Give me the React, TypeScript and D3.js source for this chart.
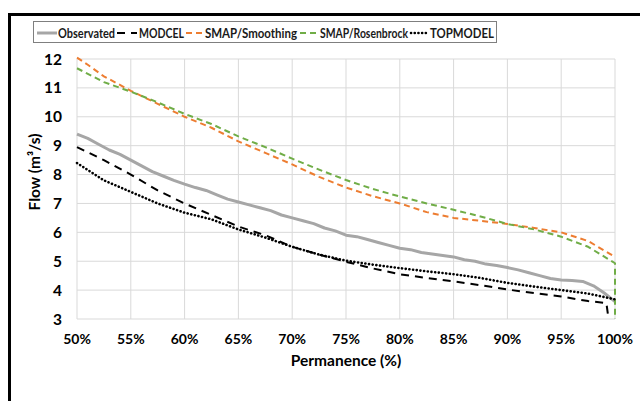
import React from "react";
import * as d3 from "d3";

// ---- data ----
const yTicks = [3, 4, 5, 6, 7, 8, 9, 10, 11, 12];
const xTicks = [50, 55, 60, 65, 70, 75, 80, 85, 90, 95, 100];

const observedX = [50, 51, 52, 53, 54, 55, 56, 57, 58, 59, 60, 61, 62, 63, 64, 65, 66, 67, 68, 69, 70, 71, 72, 73, 74, 75, 76, 77, 78, 79, 80, 81, 82, 83, 84, 85, 86, 87, 88, 89, 90, 91, 92, 93, 94, 95, 96, 97, 98, 99, 100];
const observedY = [9.4, 9.25, 9.05, 8.85, 8.7, 8.5, 8.3, 8.1, 7.95, 7.8, 7.67, 7.55, 7.45, 7.3, 7.15, 7.05, 6.95, 6.85, 6.75, 6.6, 6.5, 6.4, 6.3, 6.15, 6.05, 5.9, 5.85, 5.75, 5.65, 5.55, 5.45, 5.4, 5.3, 5.25, 5.2, 5.15, 5.05, 5.0, 4.9, 4.85, 4.78, 4.7, 4.6, 4.5, 4.4, 4.35, 4.33, 4.3, 4.15, 3.9, 3.6];

const modcelX = [50, 52.5, 55, 57.5, 60, 62.5, 65, 67.5, 70, 72.5, 75, 77.5, 80, 82.5, 85, 87.5, 90, 92.5, 95, 97.5, 99.2, 99.4];
const modcelY = [8.95, 8.5, 8.0, 7.45, 7.0, 6.6, 6.2, 5.9, 5.5, 5.23, 4.98, 4.75, 4.55, 4.42, 4.3, 4.17, 4.02, 3.9, 3.78, 3.62, 3.55, 3.0];

const smoothX = [50, 51, 52.5, 55, 57.5, 60, 62.5, 65, 67.5, 70, 72.5, 75, 77.5, 80, 82.5, 85, 87.5, 90, 92.5, 95, 97.5, 100];
const smoothY = [12.05, 11.8, 11.4, 10.9, 10.45, 10.0, 9.62, 9.15, 8.75, 8.35, 7.92, 7.55, 7.25, 7.0, 6.7, 6.5, 6.4, 6.29, 6.15, 6.0, 5.7, 5.15];

const rosenX = [50, 52.5, 55, 57.5, 60, 62.5, 65, 67.5, 70, 72.5, 75, 77.5, 80, 82.5, 85, 87.5, 90, 92.5, 95, 97.5, 100, 100];
const rosenY = [11.68, 11.2, 10.87, 10.5, 10.1, 9.75, 9.32, 8.95, 8.55, 8.17, 7.81, 7.5, 7.24, 7.0, 6.78, 6.55, 6.29, 6.1, 5.85, 5.5, 4.93, 3.0];

const topX = [50, 52.5, 55, 57.5, 60, 62.5, 65, 67.5, 70, 72.5, 75, 77.5, 80, 82.5, 85, 87.5, 90, 92.5, 95, 97.5, 100];
const topY = [8.4, 7.8, 7.4, 7.0, 6.68, 6.45, 6.1, 5.82, 5.5, 5.23, 5.02, 4.88, 4.76, 4.65, 4.55, 4.42, 4.25, 4.12, 4.0, 3.88, 3.68];

const seriesNames = ["Observated", "MODCEL", "SMAP/Smoothing", "SMAP/Rosenbrock", "TOPMODEL"];

const FONT = "Lato, 'Open Sans', sans-serif";

export default function App() {
  const W = 640, H = 401;
  const x = d3.scaleLinear().domain([50, 100]).range([77, 615]);
  const y = d3.scaleLinear().domain([3, 12]).range([319, 59]);
  const mk = (xs: number[], ys: number[]) =>
    d3.line<number>().x((_, i) => x(xs[i])).y((d) => y(d))(ys) || "";

  const series = [
    { name: seriesNames[0], d: mk(observedX, observedY), color: "#A6A6A6", width: 3, dash: "", cap: "butt" },
    { name: seriesNames[1], d: mk(modcelX, modcelY), color: "#000000", width: 2, dash: "8,6", cap: "butt" },
    { name: seriesNames[2], d: mk(smoothX, smoothY), color: "#ED7D31", width: 2, dash: "6,4", cap: "butt" },
    { name: seriesNames[3], d: mk(rosenX, rosenY), color: "#70AD47", width: 2, dash: "6,4", cap: "butt" },
    { name: seriesNames[4], d: mk(topX, topY), color: "#000000", width: 2.6, dash: "0.1,3.6", cap: "round" },
  ];

  // legend layout
  const legendItems = [
    { s: series[0], lx: 37, lw: 20, tx: 58, tw: 57 },
    { s: series[1], lx: 117, lw: 20, tx: 139, tw: 45 },
    { s: series[2], lx: 186, lw: 17, tx: 205, tw: 92 },
    { s: series[3], lx: 300, lw: 18, tx: 320, tw: 88 },
    { s: series[4], lx: 411, lw: 17, tx: 430, tw: 64 },
  ];

  return (
    <svg width={W} height={H} style={{ position: "absolute", left: 0, top: 0, background: "#fff" }}>
      <rect x={0} y={0} width={W} height={H} fill="#fff" />
      {/* outer frame */}
      <path d="M9.5,401 L9.5,14.5 L640,14.5" fill="none" stroke="#000" strokeWidth={3} />
      {/* grid */}
      {yTicks.map((t) => (
        <line key={"gy" + t} x1={77} x2={615} y1={y(t)} y2={y(t)} stroke="#D9D9D9" strokeWidth={1} />
      ))}
      {xTicks.map((t) => (
        <line key={"gx" + t} x1={x(t)} x2={x(t)} y1={59} y2={319} stroke="#D9D9D9" strokeWidth={1} />
      ))}
      {/* y tick labels */}
      {yTicks.map((t) => (
        <text key={"ly" + t} x={62} y={y(t) + 5.5} textAnchor="end" fontFamily={FONT} fontWeight="bold" fontSize={15.5} fill="#000">
          {t}
        </text>
      ))}
      {/* x tick labels */}
      {xTicks.map((t) => (
        <text key={"lx" + t} x={x(t)} y={343.5} textAnchor="middle" fontFamily={FONT} fontWeight="bold" fontSize={14} fill="#000">
          {t + "%"}
        </text>
      ))}
      {/* axis titles */}
      <text x={346} y={366} textAnchor="middle" fontFamily={FONT} fontWeight="bold" fontSize={15.5} fill="#000">
        Permanence (%)
      </text>
      <text transform="translate(40,172) rotate(-90)" textAnchor="middle" fontFamily={FONT} fontWeight="bold" fontSize={15.5} fill="#000">
        Flow (m³/s)
      </text>
      {/* series */}
      {series.map((s) => (
        <path key={s.name} d={s.d} fill="none" stroke={s.color} strokeWidth={s.width} strokeDasharray={s.dash || undefined} strokeLinecap={s.cap as any} strokeLinejoin="round" />
      ))}
      {/* legend */}
      <rect x={33.5} y={21.5} width={463} height={21} fill="#fff" stroke="#7F7F7F" strokeWidth={1} />
      {legendItems.map((it) => (
        <g key={"lg" + it.s.name}>
          <line x1={it.lx} x2={it.lx + it.lw} y1={33} y2={33} stroke={it.s.color} strokeWidth={it.s.width} strokeDasharray={it.s.dash || undefined} strokeLinecap={it.s.cap as any} />
          <text x={it.tx} y={37.5} fontFamily={FONT} fontWeight="bold" fontSize={12.5} fill="#1a1a1a" textLength={it.tw} lengthAdjust="spacingAndGlyphs">
            {it.s.name}
          </text>
        </g>
      ))}
    </svg>
  );
}
